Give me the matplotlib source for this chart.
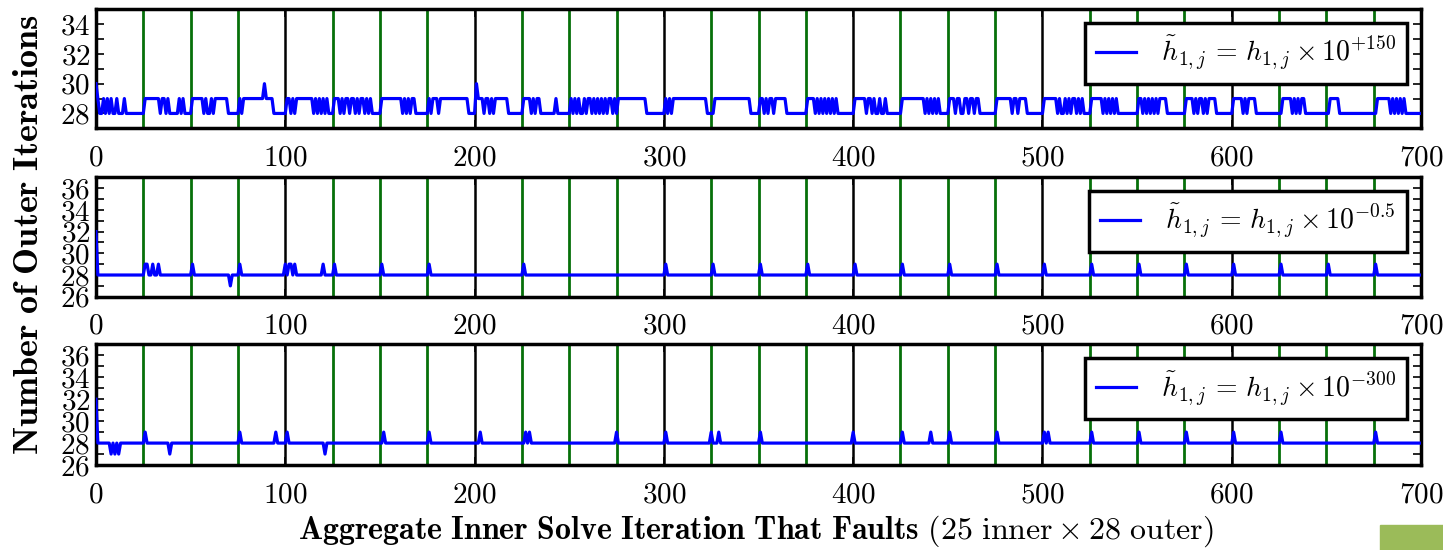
import numpy as np
import matplotlib
matplotlib.use('Agg')
import matplotlib.pyplot as plt
from matplotlib.ticker import MultipleLocator
from matplotlib.patches import Rectangle

plt.rcParams['font.family'] = 'serif'
plt.rcParams['font.serif'] = ['cmr10']
plt.rcParams['mathtext.fontset'] = 'cm'
plt.rcParams['axes.formatter.use_mathtext'] = True

# ---------------- data ----------------
# Top panel: outer iterations for each faulting aggregate inner iteration (blocks of 25)
top_blocks = [
    [30,29,28,28,29,28,29,28,29,28,28,29,28,28,28,29,28,28,28,28,28,28,28,28,28],
    [28,29,29,29,29,29,29,29,29,28,29,29,28,29,28,28,28,28,28,29,28,29,28,28,28],
    [28,29,29,29,29,29,29,28,29,28,28,29,28,29,29,29,29,29,29,29,28,28,28,28,28],
    [28,29,28,29,29,29,29,29,29,29,29,29,29,29,30,29,29,29,29,28,28,28,28,28,28],
    [28,29,29,28,29,28,29,29,29,29,29,29,29,29,29,28,29,28,29,28,29,28,29,28,28],
    [28,29,29,29,28,29,28,29,29,28,29,29,28,29,28,29,29,28,29,28,29,28,28,28,28],
    [28,29,29,29,29,29,29,29,29,29,29,29,28,29,28,29,28,29,29,28,28,28,28,28,28],
    [28,29,28,29,29,29,28,29,29,29,29,29,29,29,29,29,29,29,29,29,29,29,28,28,28],
    [28,30,29,29,29,28,29,29,28,29,28,29,29,29,29,29,29,29,28,28,28,28,28,28,28],
    [28,29,29,29,29,28,29,28,29,29,28,28,28,28,28,28,28,28,29,28,28,28,28,28,28],
    [28,29,28,29,28,29,28,28,29,28,29,29,28,29,28,29,28,29,28,29,28,29,29,28,29],
    [28,29,29,29,29,29,29,29,29,29,29,29,29,29,29,29,28,28,28,28,28,28,28,28,28],
    [28,29,28,29,28,29,29,29,29,29,29,29,29,29,29,29,29,29,29,29,29,29,29,28,28],
    [28,28,29,29,29,29,29,29,29,29,29,29,29,29,29,29,29,29,29,29,29,28,28,28,28],
    [28,29,29,28,29,28,29,29,28,29,29,29,29,29,29,28,28,28,28,28,28,28,28,28,28],
    [28,29,29,29,29,28,29,28,29,28,29,28,29,28,29,28,29,28,28,28,28,28,28,28,28],
    [28,29,29,29,29,29,29,28,29,29,28,29,28,28,29,28,28,29,28,28,28,28,28,28,28],
    [28,29,29,29,29,29,29,29,29,29,29,29,29,28,29,28,29,28,29,28,29,28,28,28,28],
    [28,29,29,29,28,29,29,28,28,29,29,28,29,29,28,29,29,28,28,28,28,28,28,28,28],
    [28,29,29,29,29,29,29,29,29,28,29,29,28,29,29,29,29,28,28,28,28,28,28,28,28],
    [28,29,29,29,29,29,29,29,28,29,28,28,29,28,29,28,29,29,28,29,28,29,28,28,28],
    [28,29,29,29,29,29,29,28,29,28,29,28,29,28,29,28,28,28,28,28,28,28,28,28,28],
    [28,29,29,28,29,28,29,28,29,28,29,28,29,29,29,29,28,28,28,28,28,28,28,28,28],
    [28,29,29,29,29,28,29,28,29,29,28,29,28,29,29,29,29,28,28,28,28,28,28,28,28],
    [28,29,29,29,29,29,28,29,28,29,29,29,29,28,28,28,28,28,28,28,28,28,28,28,28],
    [28,28,29,29,29,29,29,28,29,28,29,28,29,29,28,28,28,28,28,28,28,28,28,28,28],
    [28,28,29,29,29,29,29,28,28,28,28,28,28,28,28,28,28,28,28,28,28,28,28,28,28],
    [28,28,29,29,29,29,29,29,29,28,29,28,29,28,29,28,29,28,28,28,28,28,28,28,28],
]
top_last = [28]

# Middle / bottom panels: baseline outer iterations and the faults that deviate from it
base_iters = 28
mid_dev_x = [0, 26, 27, 30, 33, 51, 71, 76, 100, 102, 103, 105, 120, 126, 151, 176,
             226, 301, 326, 351, 376, 401, 426, 451, 476, 501, 526, 551, 576, 601,
             626, 651, 676]
mid_dev_y = [32, 29, 29, 29, 29, 29, 27, 29, 29, 29, 29, 29, 29, 29, 29, 29,
             29, 29, 29, 29, 29, 29, 29, 29, 29, 29, 29, 29, 29, 29,
             29, 29, 29]
bot_dev_x = [0, 8, 10, 12, 26, 39, 76, 95, 101, 121, 152, 176, 203, 227, 229, 275,
             301, 325, 329, 351, 400, 426, 441, 451, 476, 501, 503, 526, 551, 576,
             601, 626, 676]
bot_dev_y = [32, 27, 27, 27, 29, 27, 29, 29, 29, 27, 29, 29, 29, 29, 29, 29,
             29, 29, 29, 29, 29, 29, 29, 29, 29, 29, 29, 29, 29, 29,
             29, 29, 29]

n_faults = 701
block_len = 25
labels = [r'$\tilde{h}_{1,j}\,=\,h_{1,j} \times 10^{+150}$',
          r'$\tilde{h}_{1,j}\,=\,h_{1,j} \times 10^{-0.5}$',
          r'$\tilde{h}_{1,j}\,=\,h_{1,j} \times 10^{-300}$']
xticks = [0, 100, 200, 300, 400, 500, 600, 700]

# ---------------- build series ----------------
x = np.arange(n_faults)
top_y = np.array([v for b in top_blocks for v in b] + top_last, dtype=float)
mid_y = np.full(n_faults, base_iters, dtype=float)
mid_y[mid_dev_x] = mid_dev_y
bot_y = np.full(n_faults, base_iters, dtype=float)
bot_y[bot_dev_x] = bot_dev_y
series = [top_y, mid_y, bot_y]

# ---------------- figure ----------------
fig = plt.figure(figsize=(14.43, 5.5), dpi=100)
positions = [[0.0665, 0.7667, 0.9183, 0.2164],
             [0.0665, 0.4605, 0.9183, 0.2171],
             [0.0665, 0.1545, 0.9183, 0.2194]]
ylims = [(27, 35), (26, 37), (26, 37)]
ymajor = [[28, 30, 32, 34], [26, 28, 30, 32, 34, 36], [26, 28, 30, 32, 34, 36]]

for ax_pos, y, lab, yl, ym in zip(positions, series, labels, ylims, ymajor):
    ax = fig.add_axes(ax_pos)
    for xv in range(block_len, 700, block_len):
        if xv % 100 == 0:
            ax.axvline(xv, color='k', lw=1.8, zorder=1)
        else:
            ax.axvline(xv, color='#06700a', lw=2.0, zorder=1)
    ax.plot(x, y, color='#0000ff', lw=2.3, label=lab, zorder=3)
    ax.set_xlim(0, 700)
    ax.set_ylim(*yl)
    ax.set_xticks(xticks)
    ax.set_yticks(ym)
    ax.yaxis.set_minor_locator(MultipleLocator(1))
    ax.tick_params(axis='both', which='both', direction='in', top=True, right=True,
                   labelsize=21, width=1.2)
    ax.tick_params(axis='both', which='major', length=6)
    ax.tick_params(axis='both', which='minor', length=6)
    ax.tick_params(axis='x', pad=12)
    ax.tick_params(axis='y', pad=4)
    for s in ax.spines.values():
        s.set_linewidth(2.5)
    leg = ax.legend(loc='upper right', fontsize=20, fancybox=False, edgecolor='k',
                    framealpha=1, borderaxespad=0.5, handlelength=1.45,
                    handletextpad=0.9, borderpad=0.4)
    leg.get_frame().set_linewidth(2.5)
    leg.set_zorder(5)

fig.text(0.020, 0.573, r'$\mathbf{Number\ of\ Outer\ Iterations}$', rotation=90,
         fontsize=26, ha='center', va='center')
fig.text(0.524, 0.034,
         r'$\mathbf{Aggregate\ Inner\ Solve\ Iteration\ That\ Faults}\ (25\ \mathrm{inner} \times 28\ \mathrm{outer})$',
         fontsize=23, ha='center', va='center')
fig.add_artist(Rectangle((1380 / 1443, 0), 63 / 1443, 25 / 550,
                         transform=fig.transFigure, color='#9bbb59', zorder=0))

fig.savefig('out.png', dpi=100)
